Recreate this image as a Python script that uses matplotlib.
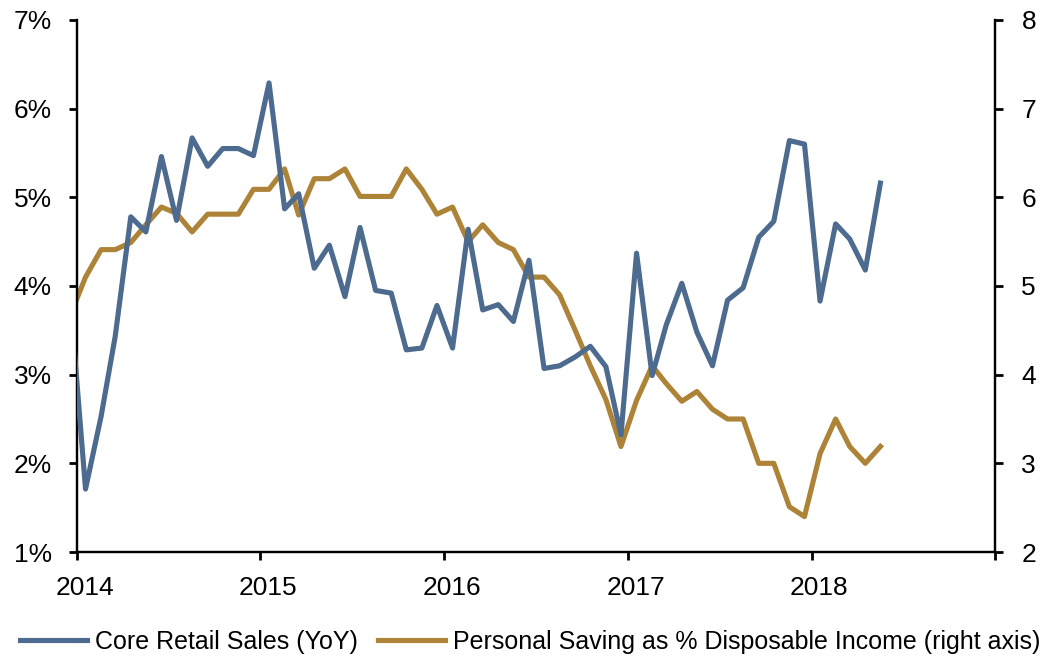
import matplotlib
matplotlib.use("Agg")
import matplotlib.pyplot as plt
import matplotlib.dates as mdates
import pandas as pd

# monthly, Dec 2013 .. May 2018 (Dec 2013 is clipped by the axis start)
months = pd.date_range("2013-12-01", "2018-05-01", freq="MS") + pd.Timedelta(days=17)

core_retail = [
    3.89,
    1.71, 2.53, 3.43, 4.78, 4.61, 5.46, 4.74, 5.67, 5.35, 5.55, 5.55, 5.47,
    6.29, 4.87, 5.04, 4.20, 4.46, 3.88, 4.66, 3.95, 3.92, 3.28, 3.30, 3.78,
    3.30, 4.64, 3.73, 3.79, 3.60, 4.29, 3.07, 3.10, 3.20, 3.32, 3.09, 2.32,
    4.37, 2.99, 3.56, 4.03, 3.48, 3.10, 3.84, 3.98, 4.55, 4.73, 5.64, 5.60,
    3.83, 4.70, 4.53, 4.18, 5.16,
]
saving_rate = [
    4.66,
    5.10, 5.41, 5.41, 5.49, 5.69, 5.89, 5.82, 5.61, 5.81, 5.81, 5.81, 6.09,
    6.09, 6.32, 5.80, 6.21, 6.21, 6.32, 6.01, 6.01, 6.01, 6.32, 6.09, 5.81,
    5.89, 5.50, 5.69, 5.49, 5.41, 5.10, 5.10, 4.90, 4.50, 4.10, 3.72, 3.19,
    3.71, 4.10, 3.90, 3.70, 3.81, 3.61, 3.50, 3.50, 3.00, 3.00, 2.51, 2.40,
    3.11, 3.50, 3.19, 3.00, 3.19,
]

left_ticks = [1, 2, 3, 4, 5, 6, 7]
right_ticks = [2, 3, 4, 5, 6, 7, 8]
year_labels = ["2014", "2015", "2016", "2017", "2018"]

BLUE = "#4d6b8e"
GOLD = "#ad8338"
FONT = "Liberation Sans"

plt.rcParams["font.family"] = FONT
plt.rcParams["font.size"] = 19

fig = plt.figure(figsize=(10.43, 6.57), dpi=100)
ax = fig.add_axes([0.0738, 0.1598, 0.8802, 0.8098])
ax2 = ax.twinx()

l1, = ax.plot(months, core_retail, color=BLUE, lw=3.7, solid_joinstyle="round",
              label="Core Retail Sales (YoY)", zorder=3)
l2, = ax2.plot(months, saving_rate, color=GOLD, lw=3.7, solid_joinstyle="round",
               label="Personal Saving as % Disposable Income (right axis)", zorder=2)
ax.set_zorder(ax2.get_zorder() + 1)
ax.patch.set_visible(False)

ax.set_xlim(pd.Timestamp("2014-01-01"), pd.Timestamp("2019-01-01"))
ax.set_ylim(left_ticks[0], left_ticks[-1])
ax2.set_ylim(right_ticks[0], right_ticks[-1])

# year boundaries get tick marks, labels sit mid-January like the source
ax.xaxis.set_major_locator(mdates.YearLocator())
ax.xaxis.set_major_formatter(plt.NullFormatter())
label_pos = [pd.Timestamp(f"{y}-01-16") for y in year_labels]
ax.set_xticks(label_pos, minor=True)
ax.set_xticklabels(year_labels, minor=True)
ax.tick_params(axis="x", which="minor", length=0, pad=17)
ax.tick_params(axis="x", which="major", length=6, width=2, direction="out")

ax.set_yticks(left_ticks)
ax.set_yticklabels([f"{t}%" for t in left_ticks])
ax.tick_params(axis="y", length=6, width=2, direction="out", pad=12)
ax2.set_yticks(right_ticks)
ax2.tick_params(axis="y", length=6, width=2, direction="out", pad=13)

for a in (ax, ax2):
    a.spines["top"].set_visible(False)
    for s in ("left", "right", "bottom"):
        a.spines[s].set_linewidth(1.6)

fig.legend(handles=[l1, l2], loc="center", bbox_to_anchor=(0.508, 0.023),
           ncol=2, frameon=False, fontsize=18, handlelength=2.7,
           handletextpad=0.3, columnspacing=0.8, borderaxespad=0)

fig.savefig("out.png", dpi=100)
